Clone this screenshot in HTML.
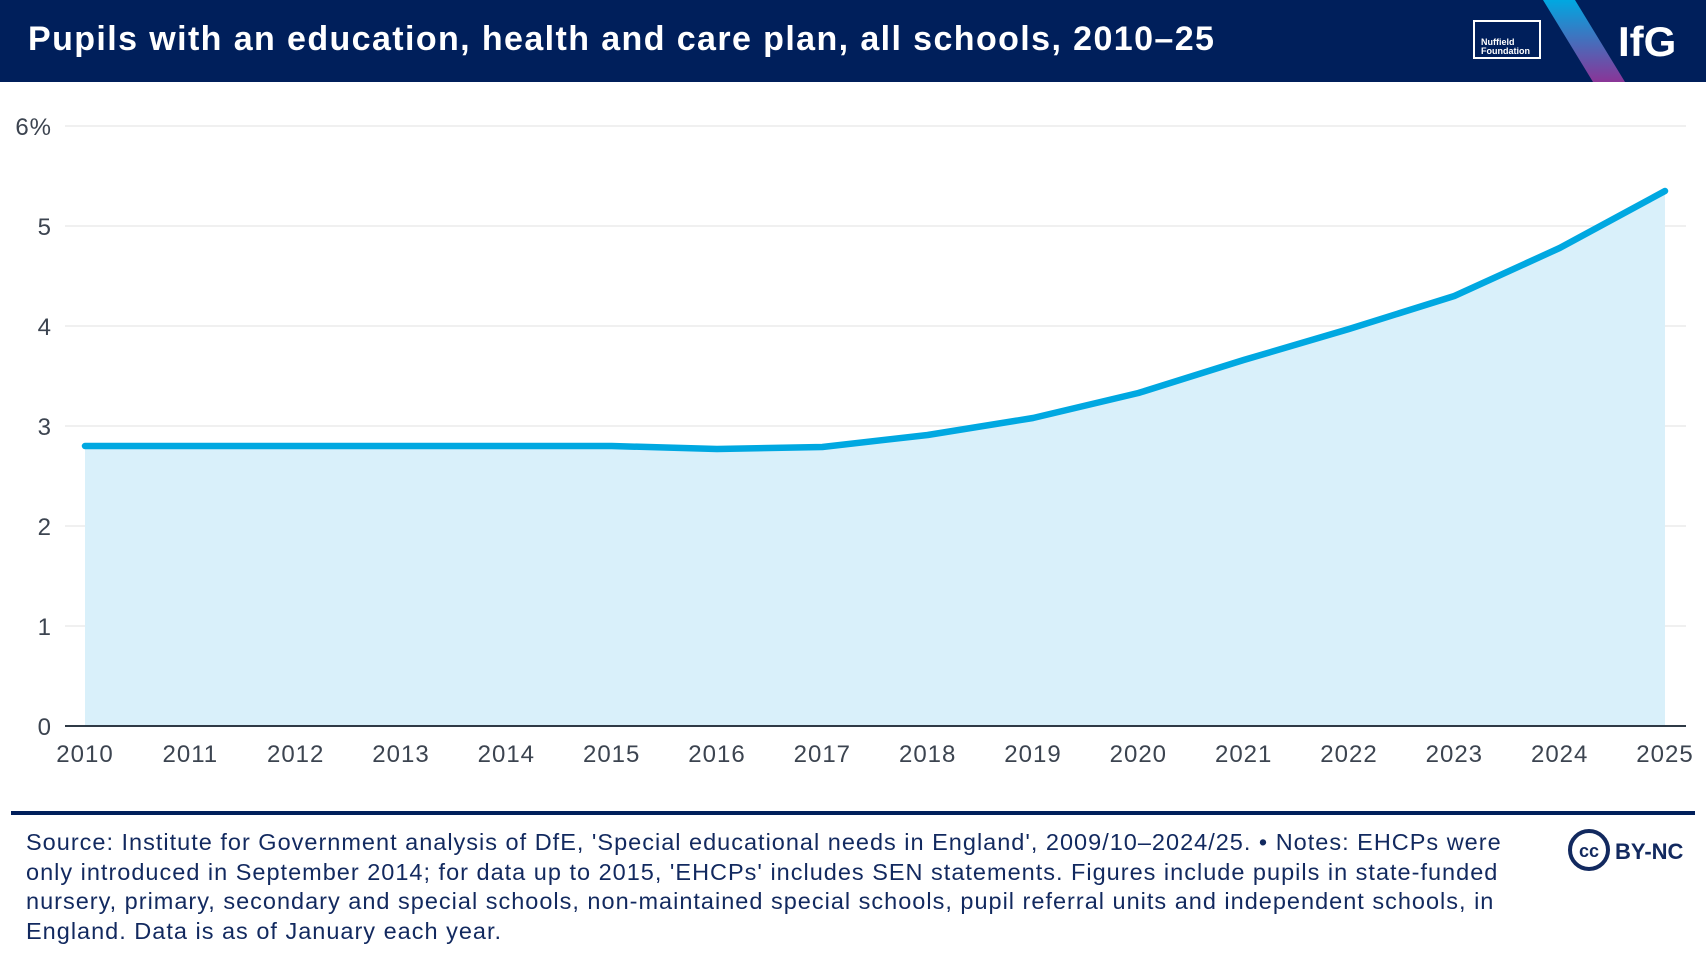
<!DOCTYPE html>
<html><head><meta charset="utf-8"><style>
body{margin:0;width:1706px;height:962px;background:#fff;font-family:"Liberation Sans",sans-serif;overflow:hidden;position:relative}
.hdr{position:absolute;left:0;top:0;width:1706px;height:82px;background:#001f5b}
.title{position:absolute;left:28px;top:20px;color:#fff;font-weight:bold;font-size:34px;letter-spacing:1.4px;white-space:nowrap}
.foot{position:absolute;left:26px;top:828px;width:1500px;color:#12295f;font-size:23.5px;line-height:29.5px;letter-spacing:1px}
.rule{position:absolute;left:11px;top:811px;width:1684px;height:4px;background:#001f5b}
</style></head><body>
<div class="hdr"></div>
<div class="title">Pupils with an education, health and care plan, all schools, 2010–25</div>
<svg width="1706" height="962" style="position:absolute;left:0;top:0">
<defs><linearGradient id="g" x1="0" y1="0" x2="0" y2="1"><stop offset="0" stop-color="#00a8e1"/><stop offset="1" stop-color="#8a3597"/></linearGradient></defs>
<rect x="1474" y="21" width="66" height="37" fill="none" stroke="#fff" stroke-width="2"/>
<text x="1481" y="45" fill="#fff" font-size="9" font-weight="bold" font-family="Liberation Sans">Nuffield</text>
<text x="1481" y="54" fill="#fff" font-size="9" font-weight="bold" font-family="Liberation Sans">Foundation</text>
<polygon points="1543,0 1575,0 1625,82 1593,82" fill="url(#g)"/>
<text x="1618" y="56" fill="#fff" font-size="42" font-weight="bold" font-family="Liberation Sans">IfG</text>
</svg>
<svg id="chart" width="1706" height="800" style="position:absolute;left:0;top:0"></svg>
<div class="rule"></div>
<div class="foot">Source: Institute for Government analysis of DfE, 'Special educational needs in England', 2009/10–2024/25. • Notes: EHCPs were only introduced in September 2014; for data up to 2015, 'EHCPs' includes SEN statements. Figures include pupils in state-funded nursery, primary, secondary and special schools, non-maintained special schools, pupil referral units and independent schools, in England. Data is as of January each year.</div>
<svg width="140" height="50" style="position:absolute;left:1565px;top:826px">
<circle cx="24" cy="24" r="19" fill="none" stroke="#12295f" stroke-width="4"/>
<text x="24" y="31" text-anchor="middle" fill="#12295f" font-size="18" font-weight="bold" font-family="Liberation Sans">cc</text>
<text x="50" y="33" fill="#12295f" font-size="22" font-weight="bold" font-family="Liberation Sans">BY-NC</text>
</svg>
<script>
const years=[2010,2011,2012,2013,2014,2015,2016,2017,2018,2019,2020,2021,2022,2023,2024,2025];
const values=[2.8,2.8,2.8,2.8,2.8,2.8,2.77,2.79,2.91,3.08,3.33,3.66,3.97,4.30,4.78,5.35];
const yTicks=[0,1,2,3,4,5,6];
const yTickLabels=["0","1","2","3","4","5","6%"];
const NS="http://www.w3.org/2000/svg";
const svg=document.getElementById('chart');
const x=v=>85+(v-2010)*(1665-85)/15;
const y=v=>726-v*100;
function el(t,a){const e=document.createElementNS(NS,t);for(const k in a)e.setAttribute(k,a[k]);svg.appendChild(e);return e;}
yTicks.forEach((t,i)=>{
 if(t>0){const g=el('line',{x1:65,x2:1686,y1:y(t),y2:y(t),stroke:'#ececec','stroke-width':1.5});
 
 }
 const l=el('text',{x:52,y:y(t)+9,'text-anchor':'end',fill:'#3c4450','font-size':24,'font-family':'Liberation Sans','letter-spacing':1});
 l.textContent=yTickLabels[i];
 
 
});
let d='M'+x(years[0])+','+y(0);
years.forEach((yr,i)=>d+=' L'+x(yr)+','+y(values[i]));
d+=' L'+x(years[years.length-1])+','+y(0)+' Z';
const area=el('path',{d:d,fill:'#d9f0fa'});


const ax=el('line',{x1:65,x2:1686,y1:y(0),y2:y(0),stroke:'#2f3a46','stroke-width':2});


const pts=years.map((yr,i)=>x(yr)+','+y(values[i])).join(' ');
const line=el('polyline',{points:pts,fill:'none',stroke:'#00a8e1','stroke-width':6.5,'stroke-linecap':'round','stroke-linejoin':'round'});


years.forEach(yr=>{
 const t=el('text',{x:x(yr),y:762,'text-anchor':'middle',fill:'#3c4450','font-size':24,'font-family':'Liberation Sans','letter-spacing':1});
 t.textContent=yr;
 
 
});
</script>
</body></html>
